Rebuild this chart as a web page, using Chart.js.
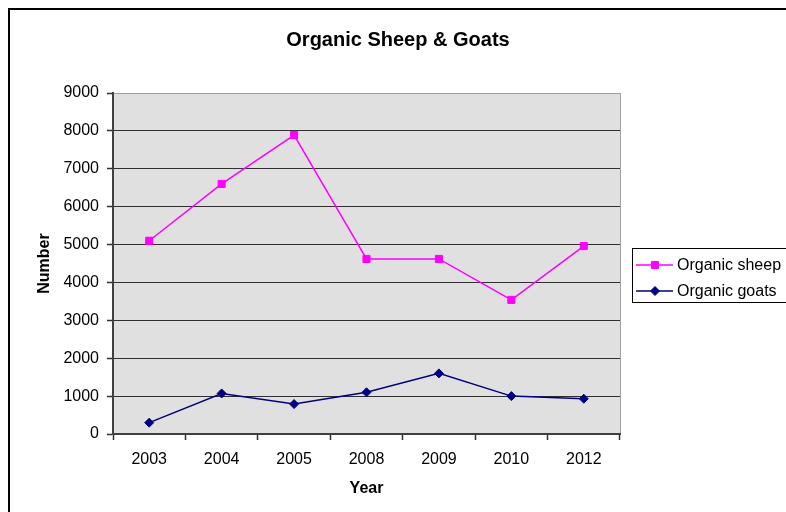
<!DOCTYPE html>
<html>
<head>
<meta charset="utf-8">
<title>Organic Sheep & Goats</title>
<script src="https://cdn.jsdelivr.net/npm/chart.js@4/dist/chart.umd.min.js"></script>
<style>
  body { margin: 0; background: #fff; }
  canvas { display: block; }
</style>
</head>
<body>
<canvas id="myCanvas" width="786" height="512"></canvas>
<script>
'use strict';

const years = ['2003', '2004', '2005', '2008', '2009', '2010', '2012'];
const sheep = [5100, 6600, 7890, 4620, 4620, 3540, 4960];
const goats = [300, 1070, 790, 1100, 1600, 1000, 930];
const yTicks = [0, 1000, 2000, 3000, 4000, 5000, 6000, 7000, 8000, 9000];

const FONT = 'Arial, "Liberation Sans", sans-serif';

// plot background, outer frame, title and the boxed legend
const frame = {
  id: 'frame',
  beforeDraw(chart) {
    const ctx = chart.ctx;
    const a = chart.chartArea;
    ctx.save();
    ctx.fillStyle = '#e0e0e0';
    ctx.fillRect(a.left, a.top, a.right - a.left, a.bottom - a.top);
    ctx.strokeStyle = '#a0a0a0';
    ctx.lineWidth = 1;
    ctx.beginPath();
    ctx.moveTo(Math.round(a.right) + 0.5, a.top);
    ctx.lineTo(Math.round(a.right) + 0.5, a.bottom);
    ctx.stroke();
    ctx.restore();
  },
  afterDraw(chart) {
    const ctx = chart.ctx;
    ctx.save();
    ctx.strokeStyle = '#000';
    ctx.lineWidth = 2;
    ctx.strokeRect(9, 9, 800, 520);

    ctx.fillStyle = '#000';
    ctx.font = 'bold 20px ' + FONT;
    ctx.textAlign = 'center';
    ctx.textBaseline = 'middle';
    ctx.fillText('Organic Sheep & Goats', 398, 40);

    ctx.lineWidth = 1;
    ctx.strokeRect(632.5, 248.5, 170, 54);
    ctx.font = '16px ' + FONT;
    ctx.textAlign = 'left';
    chart.data.datasets.forEach((ds, i) => {
      const y = 265 + i * 26;
      ctx.strokeStyle = ds.borderColor;
      ctx.fillStyle = ds.backgroundColor;
      ctx.lineWidth = ds.borderWidth;
      ctx.beginPath();
      ctx.moveTo(636, y);
      ctx.lineTo(673, y);
      ctx.stroke();
      ctx.lineWidth = 1;
      Chart.helpers.drawPoint(ctx, {
        pointStyle: ds.pointStyle,
        radius: ds.pointRadius,
        borderWidth: 1,
        rotation: 0
      }, 655, y);
      ctx.fillStyle = '#000';
      ctx.fillText(ds.label, 677, y + 1);
    });
    ctx.restore();
  }
};

const data = {
  labels: years,
  datasets: [{
    label: 'Organic sheep',
    data: sheep,
    borderColor: '#ff00ff',
    backgroundColor: '#ff00ff',
    borderWidth: 1.5,
    pointStyle: 'rect',
    pointRadius: 5,
    pointBorderWidth: 1,
    tension: 0
  }, {
    label: 'Organic goats',
    data: goats,
    borderColor: '#000080',
    backgroundColor: '#000080',
    borderWidth: 1.5,
    pointStyle: 'rectRot',
    pointRadius: 4.5,
    pointBorderWidth: 1,
    tension: 0
  }]
};

const config = {
  type: 'line',
  data: data,
  options: {
    responsive: false,
    devicePixelRatio: 1,
    animation: false,
    layout: { padding: { top: 93, left: 0, right: 166, bottom: 0 } },
    plugins: {
      legend: { display: false },
      title: { display: false },
      tooltip: { enabled: false }
    },
    scales: {
      x: {
        offset: true,
        afterFit: (s) => { s.height = 78; },
        grid: {
          offset: true,
          drawOnChartArea: false,
          tickLength: 6,
          tickColor: '#303030',
          tickWidth: 1.5
        },
        border: { color: '#404040', width: 2 },
        ticks: { color: '#000', font: { family: FONT, size: 16 }, padding: 10, maxRotation: 0 },
        title: {
          display: true,
          text: 'Year',
          color: '#000',
          font: { family: FONT, size: 16, weight: 'bold' },
          padding: { top: 0, bottom: 14 }
        }
      },
      y: {
        min: 0,
        max: 9000,
        afterFit: (s) => { s.width = 113; },
        afterBuildTicks: (s) => { s.ticks = yTicks.map(v => ({ value: v })); },
        grid: {
          color: (c) => (c.tick && c.tick.value === 9000 ? '#a0a0a0' : '#303030'),
          lineWidth: 1,
          tickLength: 6,
          tickColor: '#303030',
          tickWidth: 1.5
        },
        border: { color: '#404040', width: 2 },
        ticks: {
          color: '#000',
          font: { family: FONT, size: 16 },
          padding: 8,
          callback: (v) => String(v)
        },
        title: {
          display: true,
          text: 'Number',
          color: '#000',
          font: { family: FONT, size: 16, weight: 'bold' },
          padding: { top: 35, bottom: 0 }
        }
      }
    }
  },
  plugins: [frame]
};

const myChart = new Chart(document.getElementById('myCanvas'), config);
</script>
</body>
</html>
